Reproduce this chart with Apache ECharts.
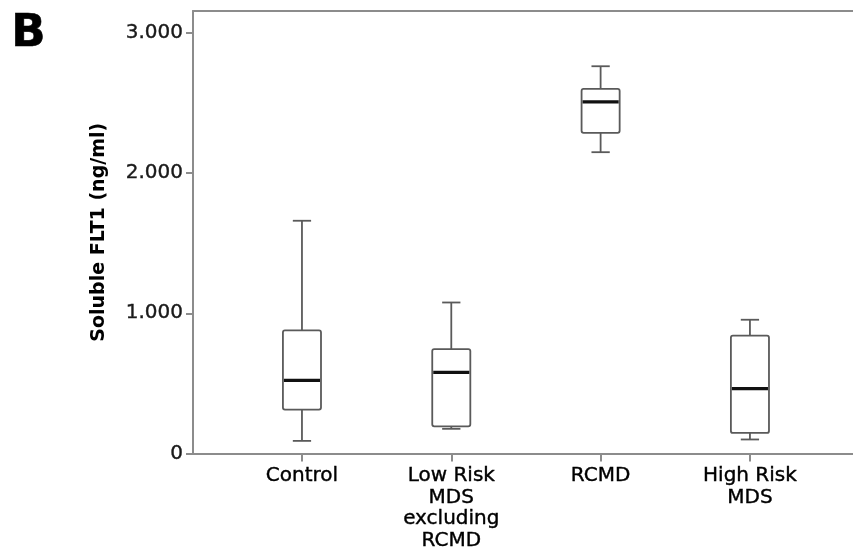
<!DOCTYPE html>
<html>
<head>
<meta charset="utf-8">
<script src="https://cdn.jsdelivr.net/npm/echarts@6/dist/echarts.min.js"></script>
<style>html,body{margin:0;padding:0;background:#fff}#c{width:853px;height:560px}</style>
</head>
<body>
<div id="c"></div>
<script>
// Data
const categories = ['Control', 'Low Risk\nMDS\nexcluding\nRCMD', 'RCMD', 'High Risk\nMDS'];
const mins    = [90, 176, 2149, 100];
const q1s     = [313, 194, 2287, 147];
const medians = [522, 579, 2508, 463];
const q3s     = [878, 745, 2600, 840];
const maxs    = [1660, 1077, 2762, 954];
const yTicks  = [0, 1000, 2000, 3000];
const yMax = 3156;

const boxData = categories.map((c, i) => [i, mins[i], q1s[i], medians[i], q3s[i], maxs[i]]);

const FONT = '"DejaVu Sans", sans-serif';
const axisGray = '#8c8c8c';
const boxGray = '#5a5a5a';

function fmt(v) {
  return String(v).replace(/\B(?=(\d{3})+(?!\d))/g, '.');
}

const chart = echarts.init(document.getElementById('c'), null, {renderer: 'canvas'});
chart.setOption({
  animation: false,
  backgroundColor: '#fff',
  graphic: [{
    type: 'text', left: 11, top: 12,
    style: {text: 'B', font: 'bold 45px "DejaVu Sans", sans-serif', fill: '#000',
      stroke: '#000', lineWidth: 0.6}
  }],
  grid: [
    {left: 193, right: -30, top: 11, bottom: 106.5},
    {left: 227.3, width: 597.3, top: 11, bottom: 106.5}
  ],
  xAxis: [
    {type: 'value', gridIndex: 0, min: 0, max: 1, position: 'bottom',
      axisLine: {show: true, lineStyle: {color: axisGray, width: 2}},
      axisTick: {show: false}, axisLabel: {show: false}, splitLine: {show: false}},
    {type: 'value', gridIndex: 0, min: 0, max: 1, position: 'top',
      axisLine: {show: true, lineStyle: {color: axisGray, width: 2}},
      axisTick: {show: false}, axisLabel: {show: false}, splitLine: {show: false}},
    {
      type: 'category', gridIndex: 1, data: categories, boundaryGap: true,
      axisLine: {show: false},
      axisTick: {show: true, alignWithLabel: true, length: 8, lineStyle: {color: axisGray, width: 2}},
      axisLabel: {color: '#000', fontFamily: FONT, fontSize: 20, lineHeight: 21.5, margin: 12, interval: 0,
        textBorderColor: '#000', textBorderWidth: 0.4}
    }
  ],
  yAxis: [
    {
      type: 'value', gridIndex: 0, min: 0, max: yMax, interval: 1000,
      name: 'Soluble FLT1 (ng/ml)', nameLocation: 'middle', nameGap: 84,
      nameTextStyle: {color: '#000', fontFamily: FONT, fontSize: 19, fontWeight: 'bold'},
      axisLine: {show: true, lineStyle: {color: axisGray, width: 2}},
      axisTick: {show: true, length: 7, lineStyle: {color: axisGray, width: 2},
        customValues: yTicks},
      splitLine: {show: false},
      axisLabel: {color: '#1a1a1a', fontFamily: FONT, fontSize: 20, margin: 10,
        textBorderColor: '#1a1a1a', textBorderWidth: 0.4,
        customValues: yTicks, formatter: v => fmt(v)}
    },
    {type: 'value', gridIndex: 1, min: 0, max: yMax, show: false}
  ],
  series: [{
    type: 'custom',
    xAxisIndex: 2, yAxisIndex: 1,
    data: boxData,
    encode: {x: 0, y: [1, 2, 3, 4, 5]},
    renderItem: function (params, api) {
      const x = api.value(0);
      const pMin = api.coord([x, api.value(1)]);
      const pQ1 = api.coord([x, api.value(2)]);
      const pMed = api.coord([x, api.value(3)]);
      const pQ3 = api.coord([x, api.value(4)]);
      const pMax = api.coord([x, api.value(5)]);
      const bw = api.size([1, 0])[0] * 0.255;
      const cw = bw * 0.48;
      const cx = pMed[0];
      const ls = {stroke: boxGray, lineWidth: 1.8, fill: null};
      return {
        type: 'group',
        children: [
          {type: 'line', shape: {x1: cx, y1: pMax[1], x2: cx, y2: pQ3[1]}, style: ls},
          {type: 'line', shape: {x1: cx, y1: pQ1[1], x2: cx, y2: pMin[1]}, style: ls},
          {type: 'line', shape: {x1: cx - cw / 2, y1: pMax[1], x2: cx + cw / 2, y2: pMax[1]}, style: ls},
          {type: 'line', shape: {x1: cx - cw / 2, y1: pMin[1], x2: cx + cw / 2, y2: pMin[1]}, style: ls},
          {type: 'rect', shape: {x: cx - bw / 2, y: pQ3[1], width: bw, height: pQ1[1] - pQ3[1], r: 2},
            style: {stroke: boxGray, lineWidth: 1.8, fill: '#fff'}},
          {type: 'line', shape: {x1: cx - bw / 2 + 1, y1: pMed[1], x2: cx + bw / 2 - 1, y2: pMed[1]},
            style: {stroke: '#111', lineWidth: 3.2}}
        ]
      };
    }
  }]
});
</script>
</body>
</html>
